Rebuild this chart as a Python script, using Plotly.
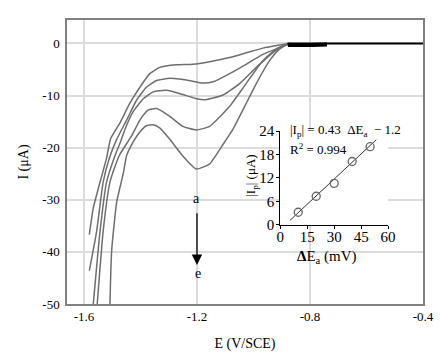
import plotly.graph_objects as go

# ---- Main voltammograms (E in V/SCE, I in uA) ----
E_a = [-1.581, -1.567, -1.543, -1.520, -1.505, -1.473, -1.438, -1.402, -1.367, -1.332, -1.273, -1.214, -1.155, -1.085, -1.026, -0.967, -0.908, -0.885, -0.870]
I_a = [-36.7, -31.6, -26.6, -22.0, -18.2, -15.3, -11.5, -8.4, -5.8, -4.6, -4.1, -4.0, -3.5, -2.7, -1.8, -0.9, -0.3, -0.1, 0.0]

E_b = [-1.581, -1.555, -1.532, -1.510, -1.485, -1.449, -1.414, -1.379, -1.343, -1.296, -1.237, -1.179, -1.140, -1.085, -1.026, -0.967, -0.908, -0.885, -0.870]
I_b = [-43.6, -36.0, -26.6, -22.0, -18.5, -14.7, -10.9, -8.4, -7.1, -6.7, -7.0, -7.6, -7.3, -5.8, -4.0, -2.1, -0.8, -0.3, 0.0]

E_c = [-1.567, -1.543, -1.520, -1.490, -1.470, -1.455, -1.426, -1.390, -1.355, -1.308, -1.250, -1.202, -1.170, -1.108, -1.049, -0.990, -0.932, -0.896, -0.870]
I_c = [-50.0, -36.0, -26.6, -21.5, -18.8, -16.5, -13.1, -10.6, -9.3, -9.0, -9.8, -10.6, -10.8, -9.9, -7.7, -4.6, -1.8, -0.5, 0.0]

E_d = [-1.553, -1.532, -1.508, -1.475, -1.432, -1.402, -1.373, -1.343, -1.296, -1.250, -1.202, -1.155, -1.085, -1.026, -0.967, -0.920, -0.890, -0.870]
I_d = [-50.0, -36.0, -26.6, -21.5, -17.8, -14.7, -12.8, -12.5, -14.0, -15.9, -16.6, -15.9, -12.1, -7.7, -3.3, -1.1, -0.3, 0.0]

E_e = [-1.508, -1.502, -1.484, -1.461, -1.449, -1.432, -1.402, -1.379, -1.355, -1.332, -1.296, -1.250, -1.202, -1.155, -1.108, -1.073, -1.049, -0.990, -0.943, -0.908, -0.885, -0.870]
I_e = [-50.0, -39.8, -30.4, -25.0, -21.5, -19.5, -17.0, -15.8, -15.6, -16.2, -18.4, -21.6, -24.1, -23.1, -19.4, -16.5, -14.0, -7.7, -3.3, -1.1, -0.3, 0.0]

# baseline (noisy thick part and flat part)
E_noise = [-0.878, -0.840, -0.790, -0.740]
I_noise = [-0.3, -0.35, -0.3, -0.2]
E_base = [-0.880, -0.400]
I_base = [0.0, 0.0]

# ---- Inset: |Ip| vs delta E_a ----
dE = [10, 20, 30, 40, 50]
Ip = [3.2, 7.3, 10.6, 16.2, 20.0]
fit_x = [5.4, 53.4]
slope, intercept = 0.43, -1.2

curve_color = "#6f6f6f"
font_fam = "Liberation Serif"

fig = go.Figure()
for E, I in [(E_a, I_a), (E_b, I_b), (E_c, I_c), (E_d, I_d), (E_e, I_e)]:
    fig.add_trace(go.Scatter(x=E, y=I, mode="lines", line=dict(color=curve_color, width=1.5, shape="spline", smoothing=0.5),
                             showlegend=False, hoverinfo="skip"))
fig.add_trace(go.Scatter(x=E_base, y=I_base, mode="lines", line=dict(color="black", width=2),
                         showlegend=False, hoverinfo="skip"))
fig.add_trace(go.Scatter(x=E_noise, y=I_noise, mode="lines", line=dict(color="black", width=4),
                         showlegend=False, hoverinfo="skip"))

# inset
fig.add_trace(go.Scatter(x=fit_x, y=[slope * v + intercept for v in fit_x], mode="lines",
                         line=dict(color="#333333", width=1), xaxis="x2", yaxis="y2",
                         showlegend=False, hoverinfo="skip"))
fig.add_trace(go.Scatter(x=dE, y=Ip, mode="markers",
                         marker=dict(symbol="circle-open", size=8, color="#666666", line=dict(width=1.3)),
                         xaxis="x2", yaxis="y2", showlegend=False, hoverinfo="skip"))

fig.update_layout(
    width=442, height=353,
    margin=dict(l=67, r=18, t=15, b=49),
    paper_bgcolor="white", plot_bgcolor="white",
    font=dict(family=font_fam, color="black", size=13),
    xaxis=dict(range=[-1.66, -0.4], tickvals=[-1.6, -1.2, -0.8, -0.4], ticktext=["-1.6", "-1.2", "-0.8", "-0.4"],
               showgrid=True, gridcolor="#dcdcdc", gridwidth=1.5, zeroline=False, automargin=False,
               showline=True, linecolor="#808080", linewidth=1.5, mirror=True, ticks="",
               title=dict(text="E (V/SCE)", font=dict(size=14, family=font_fam), standoff=15),
               tickfont=dict(size=13, family=font_fam)),
    yaxis=dict(range=[-50, 4.5], tickvals=[0, -10, -20, -30, -40, -50],
               ticktext=["0", "-10", "-20", "-30", "-40", "-50"],
               showgrid=True, gridcolor="#dcdcdc", gridwidth=1.5, zeroline=False, automargin=False,
               showline=True, linecolor="#808080", linewidth=1.5, mirror=True, ticks="",
               ticklabelstandoff=3,
               title=dict(text="I (μA)", font=dict(size=14, family=font_fam), standoff=10),
               tickfont=dict(size=13, family=font_fam)),
    xaxis2=dict(domain=[0.599, 0.902], anchor="y2", range=[0, 60], tickvals=[0, 15, 30, 45, 60],
                showgrid=False, zeroline=False, showline=True, linecolor="black", linewidth=1,
                ticks="outside", ticklen=3, tickcolor="black", ticklabelstandoff=-5,
                tickfont=dict(size=15, family=font_fam)),
    yaxis2=dict(domain=[0.279, 0.609], anchor="x2", range=[0, 24], tickvals=[0, 6, 12, 18, 24],
                showgrid=False, zeroline=False, showline=True, linecolor="black", linewidth=1,
                ticks="outside", ticklen=3, tickcolor="black", ticklabelstandoff=-1,
                tickfont=dict(size=15, family=font_fam)),
)

# inset axis titles
fig.add_annotation(x=0.731, y=0.165, xref="paper", yref="paper", xanchor="center", yanchor="middle",
                   text="<b>Δ</b>E<sub>a</sub> (mV)", showarrow=False, font=dict(size=15, family=font_fam))
fig.add_annotation(x=0.518, y=0.453, xref="paper", yref="paper", xanchor="center", yanchor="middle",
                   text="|I<sub>p</sub>| (μA)", textangle=-90, showarrow=False, font=dict(size=13, family=font_fam))

fig.add_annotation(x=-1.2, y=-42.5, ax=-1.2, ay=-32.3, xref="x", yref="y", axref="x", ayref="y",
                   text="", showarrow=True, arrowhead=2, arrowsize=1.6, arrowwidth=1.3, arrowcolor="black")
fig.add_annotation(x=-1.2, y=-29.8, xref="x", yref="y", text="a", showarrow=False, font=dict(size=14))
fig.add_annotation(x=-1.195, y=-44.2, xref="x", yref="y", text="e", showarrow=False, font=dict(size=14))

fig.add_annotation(x=0.622, y=0.612, xref="paper", yref="paper", xanchor="left", yanchor="middle",
                   text="|I<sub>p</sub>| = 0.43  ΔE<sub>a</sub>  − 1.2", showarrow=False,
                   font=dict(size=13, family=font_fam))
fig.add_annotation(x=0.622, y=0.545, xref="paper", yref="paper", xanchor="left", yanchor="middle",
                   text="R<sup>2</sup> = 0.994", showarrow=False, font=dict(size=13, family=font_fam))

fig.write_html("out.html")
